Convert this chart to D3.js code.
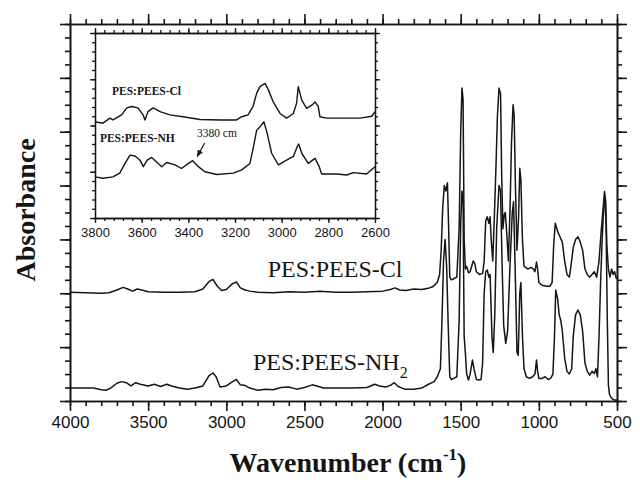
<!DOCTYPE html>
<html>
<head>
<meta charset="utf-8">
<script src="https://cdn.jsdelivr.net/npm/d3@7"></script>
<style>
  body { margin: 0; background: #fff; }
  svg { display: block; }
</style>
</head>
<body>
<svg id="chart" width="640" height="487"></svg>
<script>
// spectra: [wavenumber, absorbance (offset units)]
const specCl = [
  [4000,2.02],[3900,2.01],[3800,2.00],[3750,2.01],[3700,2.06],[3660,2.11],[3630,2.08],[3600,2.04],
  [3570,2.08],[3540,2.06],[3500,2.03],[3400,2.02],[3300,2.02],[3200,2.03],[3150,2.08],[3110,2.22],
  [3085,2.26],[3060,2.14],[3030,2.05],[3000,2.07],[2960,2.18],[2935,2.21],[2910,2.10],[2880,2.06],
  [2850,2.04],[2800,2.02],[2700,2.01],[2600,2.03],[2500,2.02],[2400,2.04],[2300,2.02],[2200,2.02],
  [2100,2.03],[2000,2.04],[1950,2.07],[1920,2.10],[1890,2.06],[1850,2.05],[1800,2.08],[1750,2.07],
  [1700,2.10],[1680,2.12],[1650,2.20],[1635,2.35],[1625,2.80],[1615,3.60],[1605,4.00],[1595,3.90],
  [1585,4.05],[1578,3.30],[1570,2.30],[1560,2.25],[1545,2.27],[1525,2.30],[1510,3.20],[1500,5.00],
  [1492,5.81],[1485,5.60],[1478,3.00],[1470,2.45],[1462,2.50],[1450,2.38],[1440,2.40],[1420,2.60],
  [1410,2.55],[1400,2.40],[1380,2.35],[1360,2.37],[1350,2.60],[1340,3.35],[1330,3.42],[1320,3.30],
  [1312,3.42],[1305,3.00],[1295,2.60],[1285,3.40],[1275,4.30],[1265,5.30],[1255,5.81],[1245,5.70],
  [1238,4.20],[1230,3.20],[1222,3.45],[1215,3.50],[1205,3.10],[1195,2.60],[1185,3.50],[1175,4.80],
  [1165,5.50],[1158,5.30],[1150,4.00],[1140,2.80],[1130,3.40],[1122,4.32],[1115,4.10],[1105,3.00],
  [1095,2.50],[1085,2.48],[1070,2.45],[1050,2.48],[1035,2.45],[1025,2.40],[1015,2.58],[1008,2.45],
  [1000,2.20],[980,2.15],[950,2.13],[930,2.13],[915,2.20],[905,2.90],[895,3.30],[880,3.15],
  [865,3.05],[850,2.95],[835,2.60],[820,2.35],[805,2.30],[795,2.50],[780,2.85],[765,3.00],
  [750,3.05],[735,2.95],[720,2.80],[705,2.45],[690,2.35],[675,2.30],[660,2.35],[645,2.40],
  [630,2.30],[615,2.60],[600,3.20],[588,3.60],[580,3.89],[572,3.70],[565,2.90],[555,2.45],
  [545,2.30],[535,2.45],[525,2.35],[515,2.40],[505,2.28],[500,2.27]
];
const specNH2 = [
  [4000,0.24],[3850,0.24],[3800,0.21],[3770,0.20],[3740,0.24],[3700,0.33],[3670,0.36],[3640,0.34],
  [3610,0.28],[3580,0.34],[3550,0.31],[3500,0.28],[3460,0.31],[3420,0.27],[3380,0.31],[3350,0.28],
  [3300,0.24],[3250,0.22],[3200,0.24],[3150,0.28],[3110,0.47],[3085,0.52],[3065,0.45],[3040,0.26],
  [3000,0.28],[2960,0.36],[2935,0.40],[2910,0.30],[2880,0.29],[2850,0.24],[2800,0.20],[2750,0.22],
  [2700,0.21],[2650,0.25],[2600,0.26],[2550,0.22],[2500,0.25],[2450,0.30],[2420,0.28],[2380,0.24],
  [2300,0.24],[2200,0.24],[2100,0.25],[2050,0.31],[2020,0.28],[1980,0.26],[1950,0.29],[1925,0.34],
  [1900,0.27],[1860,0.22],[1800,0.22],[1750,0.24],[1700,0.32],[1670,0.36],[1650,0.45],[1630,0.60],
  [1620,1.50],[1610,2.60],[1600,3.00],[1590,2.50],[1580,1.40],[1570,0.45],[1560,0.40],[1545,0.42],
  [1525,0.45],[1510,1.50],[1500,3.30],[1492,3.90],[1485,3.70],[1478,1.20],[1470,0.88],[1462,0.50],
  [1450,0.39],[1440,0.50],[1425,0.76],[1415,0.60],[1400,0.40],[1380,0.39],[1370,0.40],[1360,0.70],
  [1350,2.00],[1340,2.40],[1330,2.43],[1320,2.30],[1312,2.35],[1300,1.20],[1292,0.90],[1282,1.60],
  [1270,3.20],[1255,4.00],[1245,3.90],[1235,2.50],[1225,1.40],[1212,1.07],[1200,1.30],[1185,2.50],
  [1170,3.50],[1162,3.70],[1152,2.50],[1140,0.90],[1132,0.85],[1122,2.00],[1115,2.20],[1105,1.20],
  [1095,0.60],[1080,0.45],[1060,0.42],[1040,0.45],[1025,0.50],[1015,0.76],[1008,0.55],[1000,0.42],
  [980,0.42],[960,0.45],[940,0.40],[925,0.42],[910,0.50],[900,1.20],[892,2.06],[880,1.90],
  [870,1.60],[860,1.50],[850,1.30],[835,0.80],[820,0.55],[805,0.50],[790,0.60],[780,1.20],
  [765,1.60],[750,1.69],[735,1.60],[720,1.30],[705,0.70],[690,0.55],[675,0.48],[660,0.55],
  [645,0.51],[635,0.60],[625,0.45],[615,1.20],[605,2.20],[595,3.00],[585,3.60],[578,3.80],
  [570,3.30],[562,1.50],[555,0.30],[548,0.12],[540,0.08],[530,0.04],[520,0.02],[500,0.02]
];
// inset (3800-2600 cm-1)
const insetCl = [
  [3800,2.08],[3766,2.05],[3736,2.16],[3723,2.12],[3686,2.23],[3664,2.38],[3643,2.41],[3616,2.38],
  [3594,2.23],[3586,2.12],[3573,2.30],[3551,2.38],[3521,2.30],[3479,2.23],[3423,2.19],[3350,2.13],
  [3264,2.12],[3193,2.12],[3171,2.19],[3144,2.23],[3123,2.41],[3107,2.70],[3093,2.84],[3071,2.91],
  [3057,2.77],[3036,2.51],[3007,2.26],[2979,2.16],[2950,2.26],[2936,2.48],[2929,2.84],[2914,2.55],
  [2893,2.37],[2871,2.44],[2857,2.51],[2843,2.41],[2836,2.19],[2807,2.16],[2664,2.16],[2614,2.20],
  [2600,2.30]
];
const insetNH2 = [
  [3800,0.89],[3766,0.86],[3723,0.89],[3694,0.97],[3671,1.18],[3650,1.36],[3629,1.34],[3607,1.25],
  [3593,1.11],[3576,1.25],[3557,1.31],[3529,1.18],[3514,1.11],[3493,1.20],[3457,1.15],[3429,1.07],
  [3400,1.18],[3381,1.24],[3357,1.11],[3329,1.00],[3279,0.94],[3207,0.97],[3171,1.04],[3136,1.18],
  [3121,1.54],[3107,1.90],[3093,1.97],[3076,2.08],[3062,1.83],[3043,1.40],[3014,1.15],[2979,1.25],
  [2950,1.33],[2936,1.51],[2927,1.60],[2914,1.40],[2886,1.18],[2857,1.29],[2839,1.11],[2829,0.95],
  [2764,0.95],[2721,0.93],[2693,0.98],[2636,0.95],[2600,1.11]
];
const xTicksMain = [4000, 3500, 3000, 2500, 2000, 1500, 1000, 500];
const xTicksInset = [3800, 3600, 3400, 3200, 3000, 2800, 2600];

const svg = d3.select("#chart");
const ink = "#151515";
const serif = "'Liberation Serif', 'Times New Roman', serif";
const sans = "'Liberation Sans', Arial, sans-serif";

const x = d3.scaleLinear().domain([4000, 500]).range([70, 617]);
const y = d3.scaleLinear().domain([0, 7]).range([401, 24]);

const ix = d3.scaleLinear().domain([3800, 2600]).range([95, 375]);
const iy = d3.scaleLinear().domain([0, 4]).range([218, 33]);

function styleAxis(g, w) {
  g.selectAll("path").attr("stroke", ink).attr("stroke-width", w);
  g.selectAll("line").attr("stroke", ink).attr("stroke-width", w);
}

// main axes: minor then major
function frame(xs, ys, xMaj, xMin, yMaj, yMin, majLen, minLen, w, labels, fsize) {
  const x0 = ys.range()[0], x1 = ys.range()[1];
  const left = xs.range()[0], right = xs.range()[1];
  const bottom = ys.range()[0], top = ys.range()[1];

  const mk = [
    [d3.axisBottom(xs), "translate(0," + bottom + ")", xMin, minLen, false],
    [d3.axisBottom(xs), "translate(0," + bottom + ")", xMaj, majLen, labels],
    [d3.axisTop(xs), "translate(0," + top + ")", xMin, minLen, false],
    [d3.axisTop(xs), "translate(0," + top + ")", xMaj, majLen, false],
  ];
  mk.forEach(([ax, tr, vals, len, lab]) => {
    const g = svg.append("g").attr("transform", tr)
      .call(ax.tickValues(vals).tickSize(len).tickSizeOuter(0)
        .tickPadding(5).tickFormat(lab ? d3.format("d") : ""));
    styleAxis(g, w);
    g.selectAll("text").attr("font-family", sans).attr("font-size", fsize).attr("fill", ink);
  });
  const mky = [
    [d3.axisLeft(ys), "translate(" + left + ",0)", yMin, minLen],
    [d3.axisLeft(ys), "translate(" + left + ",0)", yMaj, majLen],
    [d3.axisRight(ys), "translate(" + right + ",0)", yMin, minLen],
    [d3.axisRight(ys), "translate(" + right + ",0)", yMaj, majLen],
  ];
  mky.forEach(([ax, tr, vals, len]) => {
    const g = svg.append("g").attr("transform", tr)
      .call(ax.tickValues(vals).tickSize(len).tickSizeOuter(0).tickFormat(""));
    styleAxis(g, w);
  });
}

const line = d3.line().x(d => x(d[0])).y(d => y(d[1]));
[specCl, specNH2].forEach(s => {
  svg.append("path").datum(s).attr("d", line)
    .attr("fill", "none").attr("stroke", ink).attr("stroke-width", 1.5)
    .attr("stroke-linejoin", "round");
});

frame(x, y, xTicksMain, d3.range(4000, 499, -100), d3.range(0, 8), d3.range(0, 7.01, 0.25),
  10, 5, 1.6, true, 17);

// series labels, main plot
svg.append("text").attr("x", x(2735)).attr("y", y(2.30))
  .attr("font-family", serif).attr("font-size", 24).attr("fill", ink)
  .text("PES:PEES-Cl");
const nh = svg.append("text").attr("x", x(2829)).attr("y", y(0.575))
  .attr("font-family", serif).attr("font-size", 24).attr("fill", ink);
nh.append("tspan").text("PES:PEES-NH");
nh.append("tspan").attr("dy", 8).attr("font-size", 16).text("2");

// inset
svg.append("rect").attr("x", 95).attr("y", 33).attr("width", 280).attr("height", 185).attr("fill", "#fff");
const iline = d3.line().x(d => ix(d[0])).y(d => iy(d[1]));
[insetCl, insetNH2].forEach(s => {
  svg.append("path").datum(s).attr("d", iline)
    .attr("fill", "none").attr("stroke", ink).attr("stroke-width", 1.4)
    .attr("stroke-linejoin", "round");
});
frame(ix, iy, xTicksInset, d3.range(3800, 2599, -40), d3.range(0, 5), d3.range(0, 4.01, 0.2),
  5, 3, 1.3, true, 13);

svg.append("text").attr("x", ix(3727)).attr("y", iy(2.66))
  .attr("font-family", serif).attr("font-weight", "bold").attr("font-size", 11.5).attr("fill", ink)
  .text("PES:PEES-Cl");
svg.append("text").attr("x", ix(3779)).attr("y", iy(1.64))
  .attr("font-family", serif).attr("font-weight", "bold").attr("font-size", 11.5).attr("fill", ink)
  .text("PES:PEES-NH");
svg.append("text").attr("x", ix(3363)).attr("y", iy(1.76))
  .attr("font-family", serif).attr("font-size", 11.5).attr("fill", ink)
  .text("3380 cm");

svg.append("defs").append("marker").attr("id", "arr")
  .attr("viewBox", "0 0 10 10").attr("refX", 9).attr("refY", 5)
  .attr("markerWidth", 6).attr("markerHeight", 6).attr("orient", "auto")
  .append("path").attr("d", "M0,1L10,5L0,9Z").attr("fill", ink);
svg.append("line")
  .attr("x1", ix(3330)).attr("y1", iy(1.62)).attr("x2", ix(3362)).attr("y2", iy(1.33))
  .attr("stroke", ink).attr("stroke-width", 1.2).attr("marker-end", "url(#arr)");

// axis titles
const xt = svg.append("text").attr("x", 348).attr("y", 472).attr("text-anchor", "middle")
  .attr("font-family", serif).attr("font-weight", "bold").attr("font-size", 28).attr("fill", ink);
xt.append("tspan").text("Wavenumber (cm");
xt.append("tspan").attr("dy", -12).attr("font-size", 17).text("-1");
xt.append("tspan").attr("dy", 12).text(")");

svg.append("text").attr("transform", "translate(35,210) rotate(-90)").attr("text-anchor", "middle")
  .attr("font-family", serif).attr("font-weight", "bold").attr("font-size", 28).attr("fill", ink)
  .text("Absorbance");
</script>
</body>
</html>
